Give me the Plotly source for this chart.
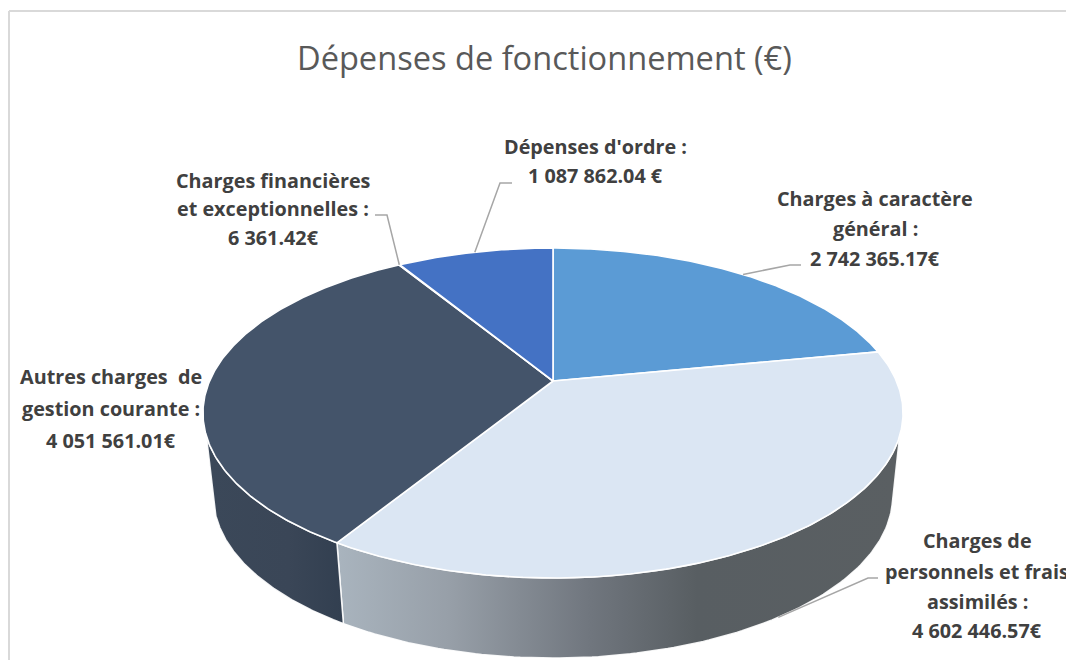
import numpy as np
import plotly.graph_objects as go

# --- data ---
categories = ["Charges à caractère général", "Charges de personnels et frais assimilés",
              "Autres charges de gestion courante", "Charges financières et exceptionnelles",
              "Dépenses d'ordre"]
values = [2742365.17, 4602446.57, 4051561.01, 6361.42, 1087862.04]
top_colors = ["#5b9bd5", "#dbe6f3", "#44546a", "#44546a", "#4472c4"]
label_lines = [
    ["Charges à caractère", "général :", "2 742 365.17€"],
    ["Charges de", "personnels et frais", "assimilés :", "4 602 446.57€"],
    ["Autres charges  de", "gestion courante :", "4 051 561.01€"],
    ["Charges financières", "et exceptionnelles :", "6 361.42€"],
    ["Dépenses d'ordre :", "1 087 862.04 €"],
]
title_text = "Dépenses de fonctionnement (€)"

# --- layout: perspective disc geometry in page pixels ---
W, H = 1066, 660
CX, CY, A, B, K = 553.0, 381.0, 343.4, 158.8, 0.194
CY_LOW, S_X, S_Y = 465.0, 0.97, 0.98
label_centers = [(875, [198, 228, 258]), (977, [540, 571, 601, 630]),
                 (111, [376, 408, 440]), (273, [180, 208, 237]), (595, [146, 175])]
elbows = [[(790, 265), (801, 265)], [(868, 578), (878, 578)], None,
          [(387, 215), (375, 215)], [(500, 183), (512, 183)]]

def top(theta):
    t = np.radians(theta)
    u, v = np.sin(t), np.cos(t)
    d = 1 + K * v
    return CX + A * u / d, CY - B * v / d

def low(theta):
    t = np.radians(theta)
    u, v = np.sin(t), np.cos(t)
    d = 1 + K * v
    return CX + S_X * A * u / d, CY_LOW - S_Y * B * v / d

total = sum(values)
edges = np.concatenate([[0], np.cumsum(values) / total * 360])
fig = go.Figure()

def wall(t0_top, t1_top, t0_low, t1_low, **style):
    xa, ya = top(np.linspace(t0_top, t1_top, 120))
    xb, yb = low(np.linspace(t1_low, t0_low, 120))
    fig.add_trace(go.Scatter(x=np.r_[xa, xb, xa[0]], y=np.r_[ya, yb, ya[0]], mode="lines",
                             fill="toself", hoverinfo="skip", showlegend=False,
                             line=dict(color="rgba(255,255,255,0.9)", width=1.5), **style))

# side walls (visible part only): front wall of slice 2 and left wall of slice 3
wall(109, edges[2], 104, edges[2],
     fillgradient=dict(type="horizontal",
                       colorscale=[[0, "#a9b4be"], [0.2, "#979fa8"], [0.45, "#70767e"],
                                   [0.64, "#585e62"], [1, "#5a5f62"]]))
wall(edges[2], 251, edges[2], 256,
     fillgradient=dict(type="horizontal",
                       colorscale=[[0, "#3b4859"], [0.6, "#3a4657"], [1, "#323f50"]]))

# top face
for i, col in enumerate(top_colors):
    th = np.linspace(edges[i], edges[i + 1], max(3, int((edges[i + 1] - edges[i]) * 2)))
    x, y = top(th)
    fig.add_trace(go.Scatter(x=np.r_[CX, x, CX], y=np.r_[CY, y, CY], mode="lines", fill="toself",
                             fillcolor=col, name=categories[i], showlegend=False, hoverinfo="skip",
                             line=dict(color="white", width=1.6)))

# leader lines
for i, e in enumerate(elbows):
    if e is None:
        continue
    mid = (edges[i] + edges[i + 1]) / 2
    sx, sy = low(mid) if 109 < mid < 251 else top(mid)
    fig.add_trace(go.Scatter(x=[sx, e[0][0], e[1][0]], y=[sy, e[0][1], e[1][1]], mode="lines",
                             hoverinfo="skip", showlegend=False,
                             line=dict(color="#a6a6a6", width=1.5)))

annotations = [dict(x=544, y=57, text=title_text, showarrow=False, xref="x", yref="y",
                    font=dict(family="Open Sans", size=32.6, color="#595959"))]
for lines, (cx, ys) in zip(label_lines, label_centers):
    for line, yy in zip(lines, ys):
        annotations.append(dict(x=cx, y=yy, text="<b>" + line + "</b>", showarrow=False,
                                xref="x", yref="y", xanchor="center", yanchor="middle",
                                font=dict(family="Open Sans", size=19.8, color="#404040")))

border = dict(color="#d9d9d9", width=2)
fig.update_layout(
    width=W, height=H, margin=dict(l=0, r=0, t=0, b=0),
    paper_bgcolor="white", plot_bgcolor="white", showlegend=False,
    xaxis=dict(range=[0, W], visible=False, fixedrange=True),
    yaxis=dict(range=[H, 0], visible=False, fixedrange=True),
    annotations=annotations,
    shapes=[dict(type="line", x0=9, x1=9, y0=11, y1=H, line=border, layer="below"),
            dict(type="line", x0=9, x1=W, y0=11, y1=11, line=border, layer="below")],
)
fig.write_html("out.html", config=dict(displayModeBar=False),
               post_script="document.body.style.margin='0';document.body.style.overflow='hidden';")
